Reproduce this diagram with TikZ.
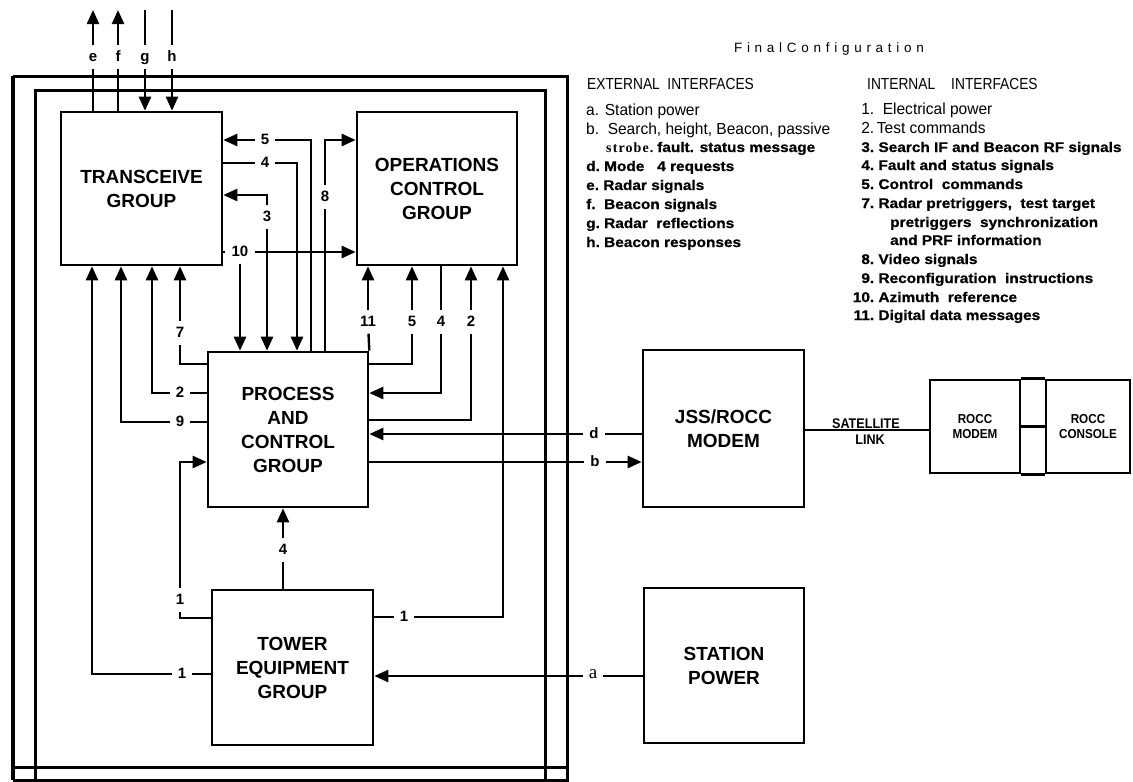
\documentclass[tikz,border=0pt]{standalone}
\usepackage{fontspec}
\setmainfont{Liberation Sans}
\newfontfamily\boxf{Liberation Sans}
\newfontfamily\condf[FakeStretch=0.86]{Liberation Sans}
\newfontfamily\regf[FakeStretch=0.97]{Liberation Sans}
\newfontfamily\wideb[FakeStretch=1.1,FakeBold=0.8]{Liberation Sans}
\newfontfamily\serifbf[LetterSpace=8]{Liberation Serif}
\newfontfamily\serifr{Liberation Serif}
\newfontfamily\spacedf[LetterSpace=35]{Liberation Sans}
\newfontfamily\roccf[FakeStretch=0.9]{Liberation Sans}
\usetikzlibrary{arrows.meta}
\newcommand{\leghd}{\condf\fontsize{16}{19}\selectfont}
\newcommand{\legr}{\regf\fontsize{16}{19}\selectfont}
\newcommand{\legb}{\wideb\bfseries\fontsize{14}{19}\selectfont}
\begin{document}
\begin{tikzpicture}[x=1pt,y=-1pt,line width=2.4pt,
  box/.style={draw,line width=2.6pt,inner sep=0pt,align=center,font=\boxf\bfseries\fontsize{19}{24}\selectfont},
  smallbox/.style={draw,line width=2.6pt,inner sep=0pt,align=center,font=\roccf\bfseries\fontsize{13}{15}\selectfont},
  lab/.style={inner sep=5pt,text height=10pt,text depth=1pt,font=\boxf\bfseries\fontsize{15}{15}\selectfont},
  arr/.style={-{Triangle[length=14pt,width=12pt]}},
  frame/.style={line width=3pt},
  leg/.style={anchor=base west,inner sep=0pt}]
\useasboundingbox (0,0) rectangle (1133,782);

% frames
\draw[line width=4.5pt] (13,76) -- (13,780);
\draw[frame] (13,76) -- (567,76) -- (567,780) -- (13,780);
\draw[frame] (35,780) -- (35,90) -- (545,90) -- (545,780);
\draw[frame] (13,767) -- (567,767);

% boxes
\node[box,minimum width=161pt,minimum height=153pt] (trans) at (141.5,188.5) {TRANSCEIVE\\GROUP};
\node[box,minimum width=160pt,minimum height=153pt] (ops) at (437,188.5) {OPERATIONS\\CONTROL\\GROUP};
\node[box,minimum width=160pt,minimum height=155pt] (proc) at (288,429.5) {PROCESS\\AND\\CONTROL\\GROUP};
\node[box,minimum width=161pt,minimum height=155pt] (tower) at (292.5,667.5) {TOWER\\EQUIPMENT\\GROUP};
\node[box,minimum width=161pt,minimum height=157pt] (jss) at (723.5,428.5) {JSS/ROCC\\MODEM};
\node[box,minimum width=160pt,minimum height=155pt] (station) at (724,665.5) {STATION\\POWER};
\node[smallbox,minimum width=90pt,minimum height=93pt] (roccm) at (975,426.5) {ROCC\\MODEM};
\node[smallbox,minimum width=84pt,minimum height=93pt] (roccc) at (1088,426.5) {ROCC\\CONSOLE};
\draw[line width=2.6pt] (roccm.north east) -- (roccc.north west);
\draw[line width=2.6pt] (roccm.south east) -- (roccc.south west);
\draw[line width=2.6pt] (roccm.east) -- (roccc.west);

% top external arrows
\node[lab] (le) at (93,57) {e};
\node[lab] (lf) at (118,57) {f};
\node[lab] (lg) at (145,57) {g};
\node[lab] (lh) at (172,57) {h};
\coordinate (te) at (93,10);
\coordinate (tf) at (118,10);
\coordinate (tg) at (145,10);
\coordinate (th) at (172,10);
\draw (trans.north -| le) -- (le);
\draw[arr] (le) -- (te);
\draw (trans.north -| lf) -- (lf);
\draw[arr] (lf) -- (tf);
\draw (tg) -- (lg);
\draw[arr] (lg) -- (trans.north -| lg);
\draw (th) -- (lh);
\draw[arr] (lh) -- (trans.north -| lh);

% between transceive and ops / process
\node[lab] (l5a) at (265,140) {5};
\coordinate (c5) at (311,140);
\draw[arr] (l5a) -- (trans.east |- l5a);
\draw (l5a) -- (c5) -- (proc.north -| c5);

\node[lab] (l4a) at (265,163) {4};
\coordinate (c4) at (297,163);
\draw (trans.east |- l4a) -- (l4a);
\draw[arr] (l4a) -- (c4) -- (proc.north -| c4);

\coordinate (c3) at (267,195);
\node[lab] (l3a) at (267,217) {3};
\draw[arr] (l3a) -- (c3) -- (trans.east |- c3);
\draw[arr] (l3a) -- (proc.north -| c3);

\node[lab] (l10) at (240,252) {10};
\draw (trans.east |- l10) -- (l10);
\draw[arr] (l10) -- (ops.west |- l10);
\draw[arr] (l10) -- (proc.north -| l10);

\coordinate (c8) at (325,140);
\node[lab] (l8) at (325,197) {8};
\draw (proc.north -| c8) -- (l8);
\draw[arr] (l8) -- (c8) -- (ops.west |- c8);

% process right side to ops
\node[lab] (l11) at (368,322) {11};
\draw (proc.north east) -- (l11);
\draw[arr] (l11) -- (ops.south -| l11);

\node[lab] (l5b) at (412,322) {5};
\coordinate (c5b) at (412,364);
\draw (proc.east |- c5b) -- (c5b) -- (l5b);
\draw[arr] (l5b) -- (ops.south -| l5b);

\node[lab] (l4b) at (441,322) {4};
\coordinate (c4b) at (441,393);
\draw (ops.south -| l4b) -- (l4b);
\draw[arr] (l4b) -- (c4b) -- (proc.east |- c4b);

\node[lab] (l2b) at (471,322) {2};
\coordinate (c2b) at (471,420);
\draw (proc.east |- c2b) -- (c2b) -- (l2b);
\draw[arr] (l2b) -- (ops.south -| l2b);

\node[lab] (l1r) at (404,617) {1};
\coordinate (c1r) at (503,617);
\draw (tower.east |- l1r) -- (l1r);
\draw[arr] (l1r) -- (c1r) -- (ops.south -| c1r);

% process left side to transceive
\node[lab] (l7) at (180,333) {7};
\coordinate (c7) at (180,364);
\draw (proc.west |- c7) -- (c7) -- (l7);
\draw[arr] (l7) -- (trans.south -| c7);

\node[lab] (l2l) at (180,393) {2};
\coordinate (c2l) at (152,393);
\draw (proc.west |- l2l) -- (l2l);
\draw[arr] (l2l) -- (c2l) -- (trans.south -| c2l);

\node[lab] (l9) at (180,422) {9};
\coordinate (c9) at (121,422);
\draw (proc.west |- l9) -- (l9);
\draw[arr] (l9) -- (c9) -- (trans.south -| c9);

\node[lab] (l1l) at (182,674) {1};
\coordinate (c1l) at (92,674);
\draw (tower.west |- l1l) -- (l1l);
\draw[arr] (l1l) -- (c1l) -- (trans.south -| c1l);

\node[lab] (l1p) at (180,600) {1};
\coordinate (c1a) at (180,618);
\coordinate (c1b) at (180,462);
\draw (tower.west |- c1a) -- (c1a) -- (l1p);
\draw[arr] (l1p) -- (c1b) -- (proc.west |- c1b);

\node[lab] (l4t) at (283,550) {4};
\draw (tower.north -| l4t) -- (l4t);
\draw[arr] (l4t) -- (proc.south -| l4t);

% right side external
\node[lab] (ld) at (594,434) {d};
\draw (jss.west |- ld) -- (ld);
\draw[arr] (ld) -- (proc.east |- ld);
\node[lab] (lb) at (595,462) {b};
\draw (proc.east |- lb) -- (lb);
\draw[arr] (lb) -- (jss.west |- lb);
\node[lab,font=\serifr\fontsize{19}{19}\selectfont] (la) at (593,674) {a};
\draw (station.west |- 0,676) -- (la.east |- 0,676);
\draw[arr] (la.west |- 0,676) -- (tower.east |- 0,676);

% satellite link
\coordinate (sl) at (804,430);
\draw[line width=2pt] (jss.east |- sl) -- (roccm.west |- sl);
\node[anchor=base,inner sep=0pt,font=\roccf\bfseries\fontsize{14}{14}\selectfont] (sat) at (866,428) {SATELLITE};
\node[anchor=north,inner sep=0pt,font=\roccf\bfseries\fontsize{14}{14}\selectfont] (lnk) at (870,434) {LINK};

% legend
\node[anchor=base,inner sep=0pt,font=\spacedf\fontsize{13.5}{13.5}\selectfont] (title) at (829,52) {FinalConfiguration};

\node[leg,font=\leghd] (ext) at (586,89) {EXTERNAL\ \ INTERFACES};
\node[leg,font=\legr] (ea) at (585,115) {a. Station power};
\node[leg,font=\legr] (eb) at (585,134) {b.\ \ Search,\ height,\ Beacon,\ passive};
\node[leg] (es) at (605,152) {{\serifbf\bfseries\fontsize{14}{19}\selectfont strobe.} {\legb fault. status message}};
\node[leg,font=\legb] (ed) at (585,171) {d.\ Mode\ \ \ 4 requests};
\node[leg,font=\legb] (ee) at (585,190) {e.\ Radar signals};
\node[leg,font=\legb] (ef) at (585,209) {f.\ \ Beacon signals};
\node[leg,font=\legb] (eg) at (585,228) {g.\ Radar\ \ reflections};
\node[leg,font=\legb] (eh) at (585,247) {h.\ Beacon responses};

\node[leg,font=\leghd] (int) at (866,89) {INTERNAL\quad INTERFACES};
\node[leg,font=\legr] (i1) at (856,114) {\makebox[17pt][r]{1.}\ \ Electrical power};
\node[leg,font=\legr] (i2) at (856,133) {\makebox[17pt][r]{2.}\,Test commands};
\node[leg,font=\legb] (i3) at (856,152) {\makebox[17pt][r]{3.}\ Search IF and Beacon RF signals};
\node[leg,font=\legb] (i4) at (856,170) {\makebox[17pt][r]{4.}\ Fault and status signals};
\node[leg,font=\legb] (i5) at (856,189) {\makebox[17pt][r]{5.}\ Control\ \ commands};
\node[leg,font=\legb] (i7) at (856,208) {\makebox[17pt][r]{7.}\ Radar\ pretriggers,\ \ test\ target};
\node[leg,font=\legb] (i7b) at (889,227) {pretriggers\ \ synchronization};
\node[leg,font=\legb] (i7c) at (889,245) {and PRF information};
\node[leg,font=\legb] (i8) at (856,264) {\makebox[17pt][r]{8.}\ Video signals};
\node[leg,font=\legb] (i9) at (856,283) {\makebox[17pt][r]{9.}\ Reconfiguration\ \ instructions};
\node[leg,font=\legb] (i10) at (856,302) {\makebox[17pt][r]{10.}\ Azimuth\ \ reference};
\node[leg,font=\legb] (i11) at (856,320) {\makebox[17pt][r]{11.}\ Digital data messages};
\end{tikzpicture}
\end{document}
